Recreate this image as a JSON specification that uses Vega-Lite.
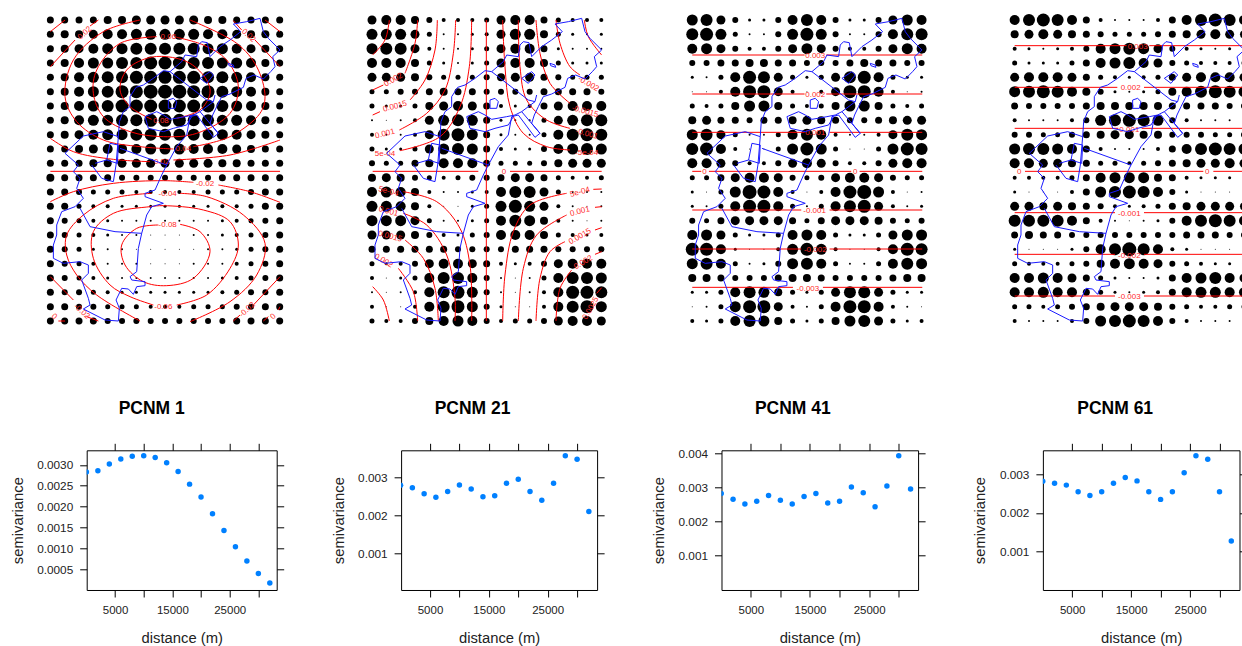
{"$schema":"https://vega.github.io/schema/vega-lite/v6.json","padding":{"left":8.7,"top":0,"right":0,"bottom":0},"background":"white","config":{"view":{"stroke":null},"font":"Liberation Sans"},"spacing":{"column":124.4,"row":110.3},"columns":4,"bounds":"flush","align":"none",
"datasets":{
"s1":[{"x":0,"y":0.00283},{"x":2000,"y":0.00286},{"x":4000,"y":0.00302},{"x":6000,"y":0.00314},{"x":8000,"y":0.00321},{"x":10000,"y":0.00322},{"x":12000,"y":0.00318},{"x":14000,"y":0.00305},{"x":16000,"y":0.00284},{"x":18000,"y":0.00254},{"x":20000,"y":0.00223},{"x":22000,"y":0.00183},{"x":24000,"y":0.00143},{"x":26000,"y":0.00104},{"x":28000,"y":0.0007},{"x":30000,"y":0.0004},{"x":32000,"y":0.00017}],
"s2":[{"x":0,"y":0.0028},{"x":2000,"y":0.002735},{"x":4000,"y":0.002575},{"x":6000,"y":0.00248},{"x":8000,"y":0.00263},{"x":10000,"y":0.002805},{"x":12000,"y":0.0027},{"x":14000,"y":0.002495},{"x":16000,"y":0.00252},{"x":18000,"y":0.00285},{"x":20000,"y":0.002956},{"x":22000,"y":0.00263},{"x":24000,"y":0.0024},{"x":26000,"y":0.00285},{"x":28000,"y":0.00358},{"x":30000,"y":0.00349},{"x":32000,"y":0.0021}],
"s3":[{"x":0,"y":0.002815},{"x":2000,"y":0.00265},{"x":4000,"y":0.00251},{"x":6000,"y":0.00259},{"x":8000,"y":0.00276},{"x":10000,"y":0.00262},{"x":12000,"y":0.00251},{"x":14000,"y":0.00273},{"x":16000,"y":0.00282},{"x":18000,"y":0.00254},{"x":20000,"y":0.00259},{"x":22000,"y":0.00301},{"x":24000,"y":0.00284},{"x":26000,"y":0.00243},{"x":28000,"y":0.00304},{"x":30000,"y":0.00392},{"x":32000,"y":0.00295}],
"s4":[{"x":0,"y":0.00282},{"x":2000,"y":0.00277},{"x":4000,"y":0.00272},{"x":6000,"y":0.00255},{"x":8000,"y":0.00245},{"x":10000,"y":0.00255},{"x":12000,"y":0.00277},{"x":14000,"y":0.00292},{"x":16000,"y":0.00283},{"x":18000,"y":0.00255},{"x":20000,"y":0.00235},{"x":22000,"y":0.00255},{"x":24000,"y":0.00304},{"x":26000,"y":0.00348},{"x":28000,"y":0.00339},{"x":30000,"y":0.00255},{"x":32000,"y":0.00127}],
"coast":[{"g":"a","x":550,"y":412},{"g":"a","x":565,"y":400},{"g":"a","x":540,"y":370},{"g":"a","x":548,"y":345},{"g":"a","x":560,"y":320},{"g":"a","x":575,"y":290},{"g":"a","x":600,"y":282},{"g":"a","x":640,"y":262},{"g":"a","x":648,"y":235},{"g":"a","x":672,"y":225},{"g":"a","x":700,"y":237},{"g":"a","x":722,"y":215},{"g":"a","x":735,"y":200},{"g":"a","x":728,"y":170},{"g":"a","x":750,"y":150},{"g":"a","x":715,"y":115},{"g":"a","x":700,"y":95},{"g":"a","x":690,"y":55},{"g":"a","x":650,"y":65},{"g":"a","x":610,"y":72},{"g":"a","x":632,"y":95},{"g":"a","x":600,"y":120},{"g":"a","x":570,"y":140},{"g":"a","x":540,"y":170},{"g":"a","x":532,"y":128},{"g":"a","x":515,"y":125},{"g":"a","x":505,"y":135},{"g":"a","x":500,"y":170},{"g":"a","x":465,"y":165},{"g":"a","x":455,"y":185},{"g":"a","x":420,"y":215},{"g":"a","x":400,"y":212},{"g":"a","x":370,"y":235},{"g":"a","x":340,"y":255},{"g":"a","x":318,"y":262},{"g":"a","x":300,"y":290},{"g":"a","x":300,"y":320},{"g":"a","x":280,"y":335},{"g":"a","x":268,"y":365},{"g":"a","x":265,"y":410},{"g":"a","x":220,"y":395},{"g":"a","x":160,"y":408},{"g":"a","x":105,"y":460},{"g":"a","x":145,"y":495},{"g":"a","x":130,"y":515},{"g":"a","x":150,"y":535},{"g":"a","x":140,"y":565},{"g":"a","x":160,"y":595},{"g":"a","x":135,"y":620},{"g":"a","x":95,"y":635},{"g":"a","x":80,"y":675},{"g":"a","x":80,"y":705},{"g":"a","x":70,"y":735},{"g":"a","x":70,"y":775},{"g":"a","x":100,"y":790},{"g":"a","x":150,"y":785},{"g":"a","x":175,"y":795},{"g":"a","x":175,"y":820},{"g":"a","x":155,"y":840},{"g":"a","x":175,"y":895},{"g":"a","x":180,"y":915},{"g":"a","x":160,"y":927},{"g":"a","x":225,"y":960},{"g":"a","x":265,"y":963},{"g":"a","x":268,"y":925},{"g":"a","x":258,"y":900},{"g":"a","x":275,"y":865},{"g":"a","x":295,"y":867},{"g":"a","x":310,"y":883},{"g":"a","x":320,"y":860},{"g":"a","x":345,"y":857},{"g":"a","x":345,"y":845},{"g":"a","x":305,"y":840},{"g":"a","x":300,"y":830},{"g":"a","x":320,"y":815},{"g":"a","x":325,"y":745},{"g":"a","x":335,"y":700},{"g":"a","x":350,"y":645},{"g":"a","x":365,"y":620},{"g":"a","x":400,"y":610},{"g":"a","x":345,"y":590},{"g":"a","x":345,"y":580},{"g":"a","x":375,"y":570},{"g":"a","x":395,"y":525},{"g":"a","x":410,"y":495},{"g":"a","x":440,"y":440},{"g":"a","x":470,"y":405},{"g":"a","x":480,"y":350},
{"g":"b","x":480,"y":350},{"g":"b","x":500,"y":345},{"g":"b","x":550,"y":412},
{"g":"c","x":510,"y":335},{"g":"c","x":565,"y":400},
{"g":"d","x":345,"y":350},{"g":"d","x":380,"y":335},{"g":"d","x":400,"y":345},{"g":"d","x":420,"y":358},{"g":"d","x":465,"y":350},{"g":"d","x":490,"y":345},{"g":"d","x":510,"y":335},{"g":"d","x":550,"y":305},{"g":"d","x":555,"y":285},
{"g":"e","x":345,"y":350},{"g":"e","x":355,"y":385},{"g":"e","x":400,"y":395},{"g":"e","x":430,"y":385},{"g":"e","x":470,"y":375},{"g":"e","x":485,"y":350},
{"g":"f","x":420,"y":215},{"g":"f","x":530,"y":300},{"g":"f","x":550,"y":305},
{"g":"h","x":335,"y":700},{"g":"h","x":255,"y":695},{"g":"h","x":180,"y":680},{"g":"h","x":150,"y":625},
{"g":"i","x":185,"y":495},{"g":"i","x":215,"y":535},{"g":"i","x":250,"y":545},{"g":"i","x":258,"y":495},{"g":"i","x":265,"y":410},
{"g":"j","x":270,"y":445},{"g":"j","x":395,"y":490},{"g":"j","x":410,"y":495},
{"g":"k","x":195,"y":490},{"g":"k","x":230,"y":480},{"g":"k","x":240,"y":430},{"g":"k","x":265,"y":435},{"g":"k","x":262,"y":490},{"g":"k","x":230,"y":480},
{"g":"l","x":415,"y":300},{"g":"l","x":430,"y":295},{"g":"l","x":440,"y":305},{"g":"l","x":435,"y":325},{"g":"l","x":415,"y":325},{"g":"l","x":415,"y":300},
{"g":"m","x":510,"y":235},{"g":"m","x":540,"y":215},{"g":"m","x":550,"y":225},{"g":"m","x":530,"y":250},{"g":"m","x":510,"y":235},
{"g":"n","x":595,"y":190},{"g":"n","x":610,"y":195},{"g":"n","x":612,"y":202},{"g":"n","x":597,"y":197},{"g":"n","x":595,"y":190}],
"c1":[{"g":"a","x":61,"y":95},{"g":"a","x":105,"y":60},
{"g":"b","x":61,"y":200},{"g":"b","x":135,"y":120},
{"g":"c","x":180,"y":78},{"g":"c","x":205,"y":60},
{"g":"d","x":610,"y":62},{"g":"d","x":635,"y":90},
{"g":"e","x":675,"y":120},{"g":"e","x":750,"y":200},
{"g":"f","x":705,"y":60},{"g":"f","x":750,"y":95},
{"g":"g","x":61,"y":415},{"g":"g","x":130,"y":455},{"g":"g","x":250,"y":478},{"g":"g","x":360,"y":485},
{"g":"h","x":430,"y":480},{"g":"h","x":600,"y":465},{"g":"h","x":750,"y":420},
{"g":"i","x":430,"y":447},{"g":"i","x":330,"y":440},{"g":"i","x":220,"y":420},{"g":"i","x":140,"y":365},{"g":"i","x":105,"y":290},{"g":"i","x":130,"y":180},{"g":"i","x":220,"y":95},{"g":"i","x":330,"y":60},
{"g":"j","x":490,"y":440},{"g":"j","x":600,"y":410},{"g":"j","x":690,"y":340},{"g":"j","x":705,"y":290},{"g":"j","x":680,"y":200},{"g":"j","x":620,"y":130},{"g":"j","x":480,"y":60},
{"g":"k","x":380,"y":110},{"g":"k","x":270,"y":130},{"g":"k","x":200,"y":210},{"g":"k","x":190,"y":280},{"g":"k","x":220,"y":350},{"g":"k","x":300,"y":395},{"g":"k","x":400,"y":410},{"g":"k","x":500,"y":400},{"g":"k","x":600,"y":340},{"g":"k","x":625,"y":260},{"g":"k","x":590,"y":180},{"g":"k","x":520,"y":135},{"g":"k","x":440,"y":112},
{"g":"l","x":365,"y":358},{"g":"l","x":300,"y":320},{"g":"l","x":270,"y":270},{"g":"l","x":290,"y":210},{"g":"l","x":350,"y":175},{"g":"l","x":410,"y":170},{"g":"l","x":480,"y":190},{"g":"l","x":530,"y":240},{"g":"l","x":540,"y":280},{"g":"l","x":510,"y":330},{"g":"l","x":440,"y":355},
{"g":"m","x":61,"y":514},{"g":"m","x":750,"y":514},
{"g":"n","x":61,"y":605},{"g":"n","x":130,"y":575},{"g":"n","x":250,"y":550},{"g":"n","x":400,"y":542},{"g":"n","x":490,"y":547},
{"g":"o","x":565,"y":555},{"g":"o","x":660,"y":575},{"g":"o","x":750,"y":607},
{"g":"p","x":365,"y":580},{"g":"p","x":250,"y":595},{"g":"p","x":160,"y":645},{"g":"p","x":110,"y":705},{"g":"p","x":110,"y":765},{"g":"p","x":140,"y":825},{"g":"p","x":200,"y":885},{"g":"p","x":330,"y":963},
{"g":"q","x":450,"y":580},{"g":"q","x":530,"y":590},{"g":"q","x":640,"y":645},{"g":"q","x":705,"y":730},{"g":"q","x":680,"y":825},{"g":"q","x":600,"y":905},{"g":"q","x":480,"y":965},
{"g":"r","x":370,"y":915},{"g":"r","x":300,"y":890},{"g":"r","x":240,"y":855},{"g":"r","x":190,"y":775},{"g":"r","x":190,"y":695},{"g":"r","x":250,"y":640},{"g":"r","x":360,"y":620},{"g":"r","x":400,"y":617},{"g":"r","x":520,"y":630},{"g":"r","x":600,"y":665},{"g":"r","x":625,"y":735},{"g":"r","x":600,"y":805},{"g":"r","x":530,"y":885},{"g":"r","x":440,"y":915},
{"g":"s","x":385,"y":675},{"g":"s","x":320,"y":685},{"g":"s","x":275,"y":735},{"g":"s","x":285,"y":795},{"g":"s","x":340,"y":845},{"g":"s","x":410,"y":857},{"g":"s","x":490,"y":835},{"g":"s","x":540,"y":755},{"g":"s","x":510,"y":695},{"g":"s","x":450,"y":673},
{"g":"t","x":61,"y":830},{"g":"t","x":130,"y":900},
{"g":"u","x":170,"y":950},{"g":"u","x":205,"y":963},
{"g":"v","x":85,"y":963},{"g":"v","x":105,"y":963},
{"g":"w","x":610,"y":963},{"g":"w","x":630,"y":945},
{"g":"x","x":670,"y":915},{"g":"x","x":750,"y":830},
{"g":"y","x":700,"y":963},{"g":"y","x":715,"y":950},
{"g":"z","x":750,"y":920},{"g":"z","x":745,"y":930}],
"l1":[{"o":"r4","x":165,"y":100,"t":"0.02"},{"o":"f4","x":655,"y":107,"t":"0.02"},{"o":"flat","x":415,"y":110,"t":"0.06"},{"o":"flat","x":393,"y":362,"t":"0.08"},{"o":"flat","x":460,"y":448,"t":"0.04"},{"o":"flat","x":395,"y":485,"t":"0.02"},{"o":"flat","x":525,"y":553,"t":"-0.02"},{"o":"flat","x":413,"y":582,"t":"-0.04"},{"o":"flat","x":413,"y":676,"t":"-0.08"},{"o":"flat","x":400,"y":920,"t":"-0.06"},{"o":"f4","x":155,"y":935,"t":"-0.02"},{"o":"r4","x":652,"y":930,"t":"-0.02"},{"o":"f4","x":72,"y":950,"t":"0"},{"o":"r4","x":730,"y":950,"t":"0"}],
"c2":[{"g":"A","x":113,"y":60},{"g":"A","x":100,"y":120},{"g":"A","x":63,"y":165},
{"g":"B","x":198,"y":60},{"g":"B","x":190,"y":130},{"g":"B","x":160,"y":220},
{"g":"B2","x":95,"y":255},{"g":"B2","x":63,"y":270},
{"g":"C","x":257,"y":60},{"g":"C","x":250,"y":150},{"g":"C","x":220,"y":240},{"g":"C","x":175,"y":300},
{"g":"C2","x":85,"y":335},{"g":"C2","x":63,"y":345},
{"g":"D","x":312,"y":60},{"g":"D","x":305,"y":160},{"g":"D","x":280,"y":270},{"g":"D","x":225,"y":340},{"g":"D","x":143,"y":390},
{"g":"E","x":360,"y":60},{"g":"E","x":353,"y":200},{"g":"E","x":325,"y":320},{"g":"E","x":265,"y":410},{"g":"E","x":145,"y":452},
{"g":"F","x":404,"y":60},{"g":"F","x":404,"y":963},
{"g":"G","x":453,"y":60},{"g":"G","x":460,"y":200},{"g":"G","x":475,"y":320},{"g":"G","x":515,"y":400},{"g":"G","x":585,"y":440},{"g":"G","x":655,"y":450},
{"g":"H","x":500,"y":60},{"g":"H","x":505,"y":200},{"g":"H","x":525,"y":300},{"g":"H","x":585,"y":360},{"g":"H","x":655,"y":385},
{"g":"I","x":553,"y":60},{"g":"I","x":565,"y":160},{"g":"I","x":595,"y":250},{"g":"I","x":655,"y":310},
{"g":"J","x":613,"y":60},{"g":"J","x":625,"y":130},{"g":"J","x":655,"y":200},{"g":"J","x":685,"y":225},
{"g":"K","x":698,"y":60},{"g":"K","x":710,"y":110},{"g":"K","x":750,"y":165},
{"g":"Z","x":63,"y":514},{"g":"Z","x":380,"y":514},
{"g":"Z2","x":475,"y":514},{"g":"Z2","x":750,"y":514},
{"g":"L","x":155,"y":575},{"g":"L","x":255,"y":605},{"g":"L","x":325,"y":685},{"g":"L","x":355,"y":795},{"g":"L","x":360,"y":963},
{"g":"M","x":155,"y":640},{"g":"M","x":225,"y":675},{"g":"M","x":285,"y":765},{"g":"M","x":310,"y":895},{"g":"M","x":310,"y":963},
{"g":"N","x":160,"y":720},{"g":"N","x":215,"y":775},{"g":"N","x":250,"y":865},{"g":"N","x":260,"y":963},
{"g":"O","x":140,"y":805},{"g":"O","x":185,"y":875},{"g":"O","x":198,"y":963},
{"g":"P","x":63,"y":860},{"g":"P","x":95,"y":900},{"g":"P","x":113,"y":963},
{"g":"Q","x":453,"y":963},{"g":"Q","x":460,"y":825},{"g":"Q","x":485,"y":695},{"g":"Q","x":535,"y":615},{"g":"Q","x":645,"y":580},
{"g":"Q2","x":725,"y":568},{"g":"Q2","x":750,"y":567},
{"g":"R","x":500,"y":963},{"g":"R","x":515,"y":805},{"g":"R","x":555,"y":705},{"g":"R","x":645,"y":645},
{"g":"R2","x":730,"y":622},{"g":"R2","x":750,"y":620},
{"g":"S","x":553,"y":963},{"g":"S","x":565,"y":835},{"g":"S","x":595,"y":755},{"g":"S","x":640,"y":725},
{"g":"S2","x":730,"y":690},{"g":"S2","x":750,"y":683},
{"g":"T","x":613,"y":963},{"g":"T","x":625,"y":865},{"g":"T","x":660,"y":810},
{"g":"T2","x":730,"y":763},{"g":"T2","x":750,"y":755},
{"g":"U","x":735,"y":880},{"g":"U","x":750,"y":863}],
"l2":[{"o":"r2","x":125,"y":240,"t":"0.002"},{"o":"r1","x":130,"y":320,"t":"0.0015"},{"o":"r1","x":100,"y":402,"t":"0.001"},{"o":"flat","x":100,"y":462,"t":"5e-04"},{"o":"flat","x":705,"y":458,"t":"-5e-04"},{"o":"f1","x":705,"y":402,"t":"-0.001"},{"o":"f1","x":700,"y":335,"t":"-0.0015"},{"o":"f2","x":710,"y":252,"t":"-0.002"},{"o":"flat","x":457,"y":515,"t":"0"},{"o":"f1","x":110,"y":575,"t":"5e-04"},{"o":"f1","x":110,"y":635,"t":"0.001"},{"o":"f1","x":115,"y":710,"t":"0.0015"},{"o":"f2","x":95,"y":783,"t":"0.002"},{"o":"r1","x":685,"y":577,"t":"5e-04"},{"o":"r1","x":685,"y":635,"t":"0.001"},{"o":"r2","x":685,"y":710,"t":"0.0015"},{"o":"r2","x":695,"y":788,"t":"0.002"},{"o":"r3","x":718,"y":925,"t":"0.0025"}],
"c3":[{"g":"a","x":61,"y":165},{"g":"a","x":398,"y":165},{"g":"b","x":463,"y":165},{"g":"b","x":751,"y":165},
{"g":"c","x":61,"y":282},{"g":"c","x":398,"y":282},{"g":"d","x":463,"y":282},{"g":"d","x":751,"y":282},
{"g":"e","x":61,"y":397},{"g":"e","x":398,"y":397},{"g":"f","x":473,"y":397},{"g":"f","x":751,"y":397},
{"g":"g","x":61,"y":514},{"g":"g","x":88,"y":514},{"g":"h","x":111,"y":514},{"g":"h","x":538,"y":514},{"g":"i","x":563,"y":514},{"g":"i","x":751,"y":514},
{"g":"j","x":61,"y":630},{"g":"j","x":388,"y":630},{"g":"k","x":473,"y":630},{"g":"k","x":751,"y":630},
{"g":"l","x":61,"y":747},{"g":"l","x":388,"y":747},{"g":"m","x":473,"y":747},{"g":"m","x":751,"y":747},
{"g":"n","x":61,"y":862},{"g":"n","x":363,"y":862},{"g":"o","x":453,"y":862},{"g":"o","x":751,"y":862}],
"l3":[{"x":430,"y":168,"t":"0.003"},{"x":430,"y":285,"t":"0.002"},{"x":430,"y":400,"t":"0.001"},{"x":98,"y":517,"t":"0"},{"x":550,"y":517,"t":"0"},{"x":428,"y":633,"t":"-0.001"},{"x":430,"y":750,"t":"-0.002"},{"x":408,"y":867,"t":"-0.003"}],
"c4":[{"g":"a","x":61,"y":137},{"g":"a","x":397,"y":137},{"g":"b","x":465,"y":137},{"g":"b","x":790,"y":137},
{"g":"c","x":61,"y":262},{"g":"c","x":369,"y":262},{"g":"d","x":449,"y":262},{"g":"d","x":790,"y":262},
{"g":"e","x":61,"y":385},{"g":"e","x":372,"y":385},{"g":"f","x":442,"y":385},{"g":"f","x":790,"y":385},
{"g":"g","x":92,"y":514},{"g":"g","x":627,"y":514},{"g":"h","x":657,"y":514},{"g":"h","x":790,"y":514},
{"g":"i","x":61,"y":638},{"g":"i","x":362,"y":638},{"g":"j","x":449,"y":638},{"g":"j","x":790,"y":638},
{"g":"k","x":61,"y":763},{"g":"k","x":362,"y":763},{"g":"l","x":449,"y":763},{"g":"l","x":790,"y":763},
{"g":"m","x":61,"y":888},{"g":"m","x":362,"y":888},{"g":"n","x":449,"y":888},{"g":"n","x":790,"y":888}],
"l4":[{"x":430,"y":141,"t":"0.003"},{"x":409,"y":265,"t":"0.002"},{"x":405,"y":390,"t":"0.001"},{"x":75,"y":517,"t":"0"},{"x":639,"y":517,"t":"0"},{"x":405,"y":642,"t":"-0.001"},{"x":405,"y":767,"t":"-0.002"},{"x":405,"y":892,"t":"-0.003"}],
"d1":[
{"x":61,"y":60,"v":7},{"x":104,"y":60,"v":7},{"x":147,"y":60,"v":7},{"x":190,"y":60,"v":7},{"x":233,"y":60,"v":8},{"x":276,"y":60,"v":8},{"x":319,"y":60,"v":9},{"x":362,"y":60,"v":9},{"x":405,"y":60,"v":9},{"x":448,"y":60,"v":9},{"x":491,"y":60,"v":9},{"x":534,"y":60,"v":8},{"x":577,"y":60,"v":8},{"x":620,"y":60,"v":7},{"x":663,"y":60,"v":7},{"x":706,"y":60,"v":7},{"x":749,"y":60,"v":7},
{"x":61,"y":103,"v":7},{"x":104,"y":103,"v":8},{"x":147,"y":103,"v":8},{"x":190,"y":103,"v":9},{"x":233,"y":103,"v":10},{"x":276,"y":103,"v":10},{"x":319,"y":103,"v":11},{"x":362,"y":103,"v":11},{"x":405,"y":103,"v":11},{"x":448,"y":103,"v":11},{"x":491,"y":103,"v":11},{"x":534,"y":103,"v":10},{"x":577,"y":103,"v":10},{"x":620,"y":103,"v":9},{"x":663,"y":103,"v":8},{"x":706,"y":103,"v":8},{"x":749,"y":103,"v":7},
{"x":61,"y":146,"v":7},{"x":104,"y":146,"v":8},{"x":147,"y":146,"v":9},{"x":190,"y":146,"v":10},{"x":233,"y":146,"v":11},{"x":276,"y":146,"v":11},{"x":319,"y":146,"v":12},{"x":362,"y":146,"v":12},{"x":405,"y":146,"v":12},{"x":448,"y":146,"v":12},{"x":491,"y":146,"v":12},{"x":534,"y":146,"v":11},{"x":577,"y":146,"v":11},{"x":620,"y":146,"v":10},{"x":663,"y":146,"v":9},{"x":706,"y":146,"v":8},{"x":749,"y":146,"v":7},
{"x":61,"y":189,"v":7},{"x":104,"y":189,"v":8},{"x":147,"y":189,"v":10},{"x":190,"y":189,"v":11},{"x":233,"y":189,"v":11},{"x":276,"y":189,"v":12},{"x":319,"y":189,"v":12},{"x":362,"y":189,"v":13},{"x":405,"y":189,"v":13},{"x":448,"y":189,"v":13},{"x":491,"y":189,"v":12},{"x":534,"y":189,"v":12},{"x":577,"y":189,"v":11},{"x":620,"y":189,"v":11},{"x":663,"y":189,"v":10},{"x":706,"y":189,"v":8},{"x":749,"y":189,"v":7},
{"x":61,"y":232,"v":7},{"x":104,"y":232,"v":8},{"x":147,"y":232,"v":10},{"x":190,"y":232,"v":11},{"x":233,"y":232,"v":12},{"x":276,"y":232,"v":12},{"x":319,"y":232,"v":13},{"x":362,"y":232,"v":13},{"x":405,"y":232,"v":13},{"x":448,"y":232,"v":13},{"x":491,"y":232,"v":13},{"x":534,"y":232,"v":12},{"x":577,"y":232,"v":12},{"x":620,"y":232,"v":11},{"x":663,"y":232,"v":10},{"x":706,"y":232,"v":8},{"x":749,"y":232,"v":7},
{"x":61,"y":275,"v":7},{"x":104,"y":275,"v":8},{"x":147,"y":275,"v":10},{"x":190,"y":275,"v":11},{"x":233,"y":275,"v":12},{"x":276,"y":275,"v":13},{"x":319,"y":275,"v":13},{"x":362,"y":275,"v":14},{"x":405,"y":275,"v":14},{"x":448,"y":275,"v":14},{"x":491,"y":275,"v":13},{"x":534,"y":275,"v":13},{"x":577,"y":275,"v":12},{"x":620,"y":275,"v":11},{"x":663,"y":275,"v":10},{"x":706,"y":275,"v":8},{"x":749,"y":275,"v":7},
{"x":61,"y":318,"v":7},{"x":104,"y":318,"v":8},{"x":147,"y":318,"v":10},{"x":190,"y":318,"v":11},{"x":233,"y":318,"v":12},{"x":276,"y":318,"v":13},{"x":319,"y":318,"v":13},{"x":362,"y":318,"v":13},{"x":405,"y":318,"v":13},{"x":448,"y":318,"v":13},{"x":491,"y":318,"v":13},{"x":534,"y":318,"v":13},{"x":577,"y":318,"v":12},{"x":620,"y":318,"v":11},{"x":663,"y":318,"v":10},{"x":706,"y":318,"v":8},{"x":749,"y":318,"v":7},
{"x":61,"y":361,"v":7},{"x":104,"y":361,"v":8},{"x":147,"y":361,"v":10},{"x":190,"y":361,"v":11},{"x":233,"y":361,"v":11},{"x":276,"y":361,"v":12},{"x":319,"y":361,"v":12},{"x":362,"y":361,"v":13},{"x":405,"y":361,"v":13},{"x":448,"y":361,"v":13},{"x":491,"y":361,"v":12},{"x":534,"y":361,"v":12},{"x":577,"y":361,"v":11},{"x":620,"y":361,"v":11},{"x":663,"y":361,"v":10},{"x":706,"y":361,"v":8},{"x":749,"y":361,"v":7},
{"x":61,"y":404,"v":7},{"x":104,"y":404,"v":8},{"x":147,"y":404,"v":9},{"x":190,"y":404,"v":10},{"x":233,"y":404,"v":11},{"x":276,"y":404,"v":11},{"x":319,"y":404,"v":12},{"x":362,"y":404,"v":12},{"x":405,"y":404,"v":12},{"x":448,"y":404,"v":12},{"x":491,"y":404,"v":12},{"x":534,"y":404,"v":11},{"x":577,"y":404,"v":11},{"x":620,"y":404,"v":10},{"x":663,"y":404,"v":9},{"x":706,"y":404,"v":8},{"x":749,"y":404,"v":7},
{"x":61,"y":447,"v":7},{"x":104,"y":447,"v":7},{"x":147,"y":447,"v":8},{"x":190,"y":447,"v":9},{"x":233,"y":447,"v":10},{"x":276,"y":447,"v":10},{"x":319,"y":447,"v":10},{"x":362,"y":447,"v":11},{"x":405,"y":447,"v":11},{"x":448,"y":447,"v":11},{"x":491,"y":447,"v":10},{"x":534,"y":447,"v":10},{"x":577,"y":447,"v":10},{"x":620,"y":447,"v":9},{"x":663,"y":447,"v":8},{"x":706,"y":447,"v":7},{"x":749,"y":447,"v":7},
{"x":61,"y":490,"v":7},{"x":104,"y":490,"v":7},{"x":147,"y":490,"v":7},{"x":190,"y":490,"v":8},{"x":233,"y":490,"v":8},{"x":276,"y":490,"v":9},{"x":319,"y":490,"v":9},{"x":362,"y":490,"v":9},{"x":405,"y":490,"v":9},{"x":448,"y":490,"v":9},{"x":491,"y":490,"v":9},{"x":534,"y":490,"v":9},{"x":577,"y":490,"v":8},{"x":620,"y":490,"v":8},{"x":663,"y":490,"v":7},{"x":706,"y":490,"v":7},{"x":749,"y":490,"v":7},
{"x":61,"y":533,"v":8},{"x":104,"y":533,"v":7},{"x":147,"y":533,"v":7},{"x":190,"y":533,"v":7},{"x":233,"y":533,"v":7},{"x":276,"y":533,"v":6},{"x":319,"y":533,"v":6},{"x":362,"y":533,"v":6},{"x":405,"y":533,"v":6},{"x":448,"y":533,"v":6},{"x":491,"y":533,"v":6},{"x":534,"y":533,"v":6},{"x":577,"y":533,"v":7},{"x":620,"y":533,"v":7},{"x":663,"y":533,"v":7},{"x":706,"y":533,"v":7},{"x":749,"y":533,"v":7},
{"x":61,"y":576,"v":7},{"x":104,"y":576,"v":7},{"x":147,"y":576,"v":6},{"x":190,"y":576,"v":5},{"x":233,"y":576,"v":5},{"x":276,"y":576,"v":5},{"x":319,"y":576,"v":4},{"x":362,"y":576,"v":4},{"x":405,"y":576,"v":4},{"x":448,"y":576,"v":4},{"x":491,"y":576,"v":4},{"x":534,"y":576,"v":5},{"x":577,"y":576,"v":5},{"x":620,"y":576,"v":5},{"x":663,"y":576,"v":6},{"x":706,"y":576,"v":7},{"x":749,"y":576,"v":7},
{"x":61,"y":619,"v":7},{"x":104,"y":619,"v":7},{"x":147,"y":619,"v":5},{"x":190,"y":619,"v":4},{"x":233,"y":619,"v":4},{"x":276,"y":619,"v":3},{"x":319,"y":619,"v":3},{"x":362,"y":619,"v":3},{"x":405,"y":619,"v":3},{"x":448,"y":619,"v":3},{"x":491,"y":619,"v":3},{"x":534,"y":619,"v":3},{"x":577,"y":619,"v":4},{"x":620,"y":619,"v":4},{"x":663,"y":619,"v":5},{"x":706,"y":619,"v":7},{"x":749,"y":619,"v":7},
{"x":61,"y":662,"v":7},{"x":104,"y":662,"v":6},{"x":147,"y":662,"v":5},{"x":190,"y":662,"v":4},{"x":233,"y":662,"v":3},{"x":276,"y":662,"v":2},{"x":319,"y":662,"v":2},{"x":362,"y":662,"v":2},{"x":405,"y":662,"v":2},{"x":448,"y":662,"v":2},{"x":491,"y":662,"v":2},{"x":534,"y":662,"v":2},{"x":577,"y":662,"v":3},{"x":620,"y":662,"v":4},{"x":663,"y":662,"v":5},{"x":706,"y":662,"v":6},{"x":749,"y":662,"v":7},
{"x":61,"y":705,"v":7},{"x":104,"y":705,"v":6},{"x":147,"y":705,"v":5},{"x":190,"y":705,"v":4},{"x":233,"y":705,"v":3},{"x":276,"y":705,"v":2},{"x":319,"y":705,"v":2},{"x":362,"y":705,"v":1},{"x":405,"y":705,"v":1},{"x":448,"y":705,"v":1},{"x":491,"y":705,"v":2},{"x":534,"y":705,"v":2},{"x":577,"y":705,"v":3},{"x":620,"y":705,"v":4},{"x":663,"y":705,"v":5},{"x":706,"y":705,"v":6},{"x":749,"y":705,"v":7},
{"x":61,"y":748,"v":7},{"x":104,"y":748,"v":6},{"x":147,"y":748,"v":5},{"x":190,"y":748,"v":3},{"x":233,"y":748,"v":2},{"x":276,"y":748,"v":2},{"x":319,"y":748,"v":1},{"x":362,"y":748,"v":1},{"x":405,"y":748,"v":1},{"x":448,"y":748,"v":1},{"x":491,"y":748,"v":1},{"x":534,"y":748,"v":2},{"x":577,"y":748,"v":2},{"x":620,"y":748,"v":3},{"x":663,"y":748,"v":5},{"x":706,"y":748,"v":6},{"x":749,"y":748,"v":7},
{"x":61,"y":791,"v":7},{"x":104,"y":791,"v":6},{"x":147,"y":791,"v":5},{"x":190,"y":791,"v":4},{"x":233,"y":791,"v":2},{"x":276,"y":791,"v":2},{"x":319,"y":791,"v":2},{"x":362,"y":791,"v":1},{"x":405,"y":791,"v":1},{"x":448,"y":791,"v":1},{"x":491,"y":791,"v":2},{"x":534,"y":791,"v":2},{"x":577,"y":791,"v":2},{"x":620,"y":791,"v":4},{"x":663,"y":791,"v":5},{"x":706,"y":791,"v":6},{"x":749,"y":791,"v":7},
{"x":61,"y":834,"v":7},{"x":104,"y":834,"v":6},{"x":147,"y":834,"v":5},{"x":190,"y":834,"v":4},{"x":233,"y":834,"v":3},{"x":276,"y":834,"v":2},{"x":319,"y":834,"v":2},{"x":362,"y":834,"v":2},{"x":405,"y":834,"v":2},{"x":448,"y":834,"v":2},{"x":491,"y":834,"v":2},{"x":534,"y":834,"v":2},{"x":577,"y":834,"v":3},{"x":620,"y":834,"v":4},{"x":663,"y":834,"v":5},{"x":706,"y":834,"v":6},{"x":749,"y":834,"v":7},
{"x":61,"y":877,"v":7},{"x":104,"y":877,"v":6},{"x":147,"y":877,"v":6},{"x":190,"y":877,"v":5},{"x":233,"y":877,"v":4},{"x":276,"y":877,"v":3},{"x":319,"y":877,"v":3},{"x":362,"y":877,"v":3},{"x":405,"y":877,"v":3},{"x":448,"y":877,"v":3},{"x":491,"y":877,"v":3},{"x":534,"y":877,"v":3},{"x":577,"y":877,"v":4},{"x":620,"y":877,"v":5},{"x":663,"y":877,"v":6},{"x":706,"y":877,"v":6},{"x":749,"y":877,"v":7},
{"x":61,"y":920,"v":7},{"x":104,"y":920,"v":7},{"x":147,"y":920,"v":6},{"x":190,"y":920,"v":6},{"x":233,"y":920,"v":5},{"x":276,"y":920,"v":5},{"x":319,"y":920,"v":5},{"x":362,"y":920,"v":4},{"x":405,"y":920,"v":4},{"x":448,"y":920,"v":4},{"x":491,"y":920,"v":5},{"x":534,"y":920,"v":5},{"x":577,"y":920,"v":5},{"x":620,"y":920,"v":6},{"x":663,"y":920,"v":6},{"x":706,"y":920,"v":7},{"x":749,"y":920,"v":7},
{"x":61,"y":963,"v":7},{"x":104,"y":963,"v":7},{"x":147,"y":963,"v":7},{"x":190,"y":963,"v":7},{"x":233,"y":963,"v":6},{"x":276,"y":963,"v":6},{"x":319,"y":963,"v":6},{"x":362,"y":963,"v":6},{"x":405,"y":963,"v":6},{"x":448,"y":963,"v":6},{"x":491,"y":963,"v":6},{"x":534,"y":963,"v":6},{"x":577,"y":963,"v":6},{"x":620,"y":963,"v":7},{"x":663,"y":963,"v":7},{"x":706,"y":963,"v":7},{"x":749,"y":963,"v":7}],
"d2":[
{"x":61,"y":60,"v":9},{"x":104,"y":60,"v":10},{"x":147,"y":60,"v":10},{"x":190,"y":60,"v":8},{"x":233,"y":60,"v":6},{"x":276,"y":60,"v":4},{"x":319,"y":60,"v":4},{"x":362,"y":60,"v":4},{"x":405,"y":60,"v":5},{"x":448,"y":60,"v":9},{"x":491,"y":60,"v":10},{"x":534,"y":60,"v":10},{"x":577,"y":60,"v":7},{"x":620,"y":60,"v":5},{"x":663,"y":60,"v":4},{"x":706,"y":60,"v":4},{"x":749,"y":60,"v":4},
{"x":61,"y":103,"v":11},{"x":104,"y":103,"v":11},{"x":147,"y":103,"v":11},{"x":190,"y":103,"v":9},{"x":233,"y":103,"v":5},{"x":276,"y":103,"v":2},{"x":319,"y":103,"v":2},{"x":362,"y":103,"v":3},{"x":405,"y":103,"v":4},{"x":448,"y":103,"v":9},{"x":491,"y":103,"v":11},{"x":534,"y":103,"v":11},{"x":577,"y":103,"v":8},{"x":620,"y":103,"v":5},{"x":663,"y":103,"v":3},{"x":706,"y":103,"v":2},{"x":749,"y":103,"v":3},
{"x":61,"y":146,"v":11},{"x":104,"y":146,"v":12},{"x":147,"y":146,"v":12},{"x":190,"y":146,"v":9},{"x":233,"y":146,"v":4},{"x":276,"y":146,"v":2},{"x":319,"y":146,"v":2},{"x":362,"y":146,"v":3},{"x":405,"y":146,"v":5},{"x":448,"y":146,"v":9},{"x":491,"y":146,"v":10},{"x":534,"y":146,"v":10},{"x":577,"y":146,"v":7},{"x":620,"y":146,"v":3},{"x":663,"y":146,"v":2},{"x":706,"y":146,"v":2},{"x":749,"y":146,"v":2},
{"x":61,"y":189,"v":10},{"x":104,"y":189,"v":10},{"x":147,"y":189,"v":10},{"x":190,"y":189,"v":8},{"x":233,"y":189,"v":5},{"x":276,"y":189,"v":3},{"x":319,"y":189,"v":2},{"x":362,"y":189,"v":3},{"x":405,"y":189,"v":5},{"x":448,"y":189,"v":9},{"x":491,"y":189,"v":10},{"x":534,"y":189,"v":10},{"x":577,"y":189,"v":8},{"x":620,"y":189,"v":5},{"x":663,"y":189,"v":3},{"x":706,"y":189,"v":3},{"x":749,"y":189,"v":3},
{"x":61,"y":232,"v":9},{"x":104,"y":232,"v":9},{"x":147,"y":232,"v":9},{"x":190,"y":232,"v":8},{"x":233,"y":232,"v":6},{"x":276,"y":232,"v":5},{"x":319,"y":232,"v":5},{"x":362,"y":232,"v":5},{"x":405,"y":232,"v":6},{"x":448,"y":232,"v":8},{"x":491,"y":232,"v":9},{"x":534,"y":232,"v":9},{"x":577,"y":232,"v":7},{"x":620,"y":232,"v":6},{"x":663,"y":232,"v":5},{"x":706,"y":232,"v":5},{"x":749,"y":232,"v":5},
{"x":61,"y":275,"v":5},{"x":104,"y":275,"v":5},{"x":147,"y":275,"v":6},{"x":190,"y":275,"v":6},{"x":233,"y":275,"v":7},{"x":276,"y":275,"v":8},{"x":319,"y":275,"v":7},{"x":362,"y":275,"v":7},{"x":405,"y":275,"v":6},{"x":448,"y":275,"v":6},{"x":491,"y":275,"v":6},{"x":534,"y":275,"v":6},{"x":577,"y":275,"v":7},{"x":620,"y":275,"v":7},{"x":663,"y":275,"v":7},{"x":706,"y":275,"v":7},{"x":749,"y":275,"v":6},
{"x":61,"y":318,"v":5},{"x":104,"y":318,"v":3},{"x":147,"y":318,"v":3},{"x":190,"y":318,"v":5},{"x":233,"y":318,"v":8},{"x":276,"y":318,"v":9},{"x":319,"y":318,"v":10},{"x":362,"y":318,"v":9},{"x":405,"y":318,"v":7},{"x":448,"y":318,"v":4},{"x":491,"y":318,"v":3},{"x":534,"y":318,"v":4},{"x":577,"y":318,"v":7},{"x":620,"y":318,"v":9},{"x":663,"y":318,"v":10},{"x":706,"y":318,"v":10},{"x":749,"y":318,"v":10},
{"x":61,"y":361,"v":2},{"x":104,"y":361,"v":1},{"x":147,"y":361,"v":2},{"x":190,"y":361,"v":4},{"x":233,"y":361,"v":9},{"x":276,"y":361,"v":11},{"x":319,"y":361,"v":12},{"x":362,"y":361,"v":11},{"x":405,"y":361,"v":7},{"x":448,"y":361,"v":3},{"x":491,"y":361,"v":2},{"x":534,"y":361,"v":2},{"x":577,"y":361,"v":5},{"x":620,"y":361,"v":9},{"x":663,"y":361,"v":11},{"x":706,"y":361,"v":12},{"x":749,"y":361,"v":12},
{"x":61,"y":404,"v":4},{"x":104,"y":404,"v":2},{"x":147,"y":404,"v":2},{"x":190,"y":404,"v":4},{"x":233,"y":404,"v":9},{"x":276,"y":404,"v":12},{"x":319,"y":404,"v":13},{"x":362,"y":404,"v":11},{"x":405,"y":404,"v":7},{"x":448,"y":404,"v":3},{"x":491,"y":404,"v":2},{"x":534,"y":404,"v":2},{"x":577,"y":404,"v":5},{"x":620,"y":404,"v":10},{"x":663,"y":404,"v":12},{"x":706,"y":404,"v":13},{"x":749,"y":404,"v":12},
{"x":61,"y":447,"v":5},{"x":104,"y":447,"v":3},{"x":147,"y":447,"v":3},{"x":190,"y":447,"v":5},{"x":233,"y":447,"v":9},{"x":276,"y":447,"v":11},{"x":319,"y":447,"v":12},{"x":362,"y":447,"v":11},{"x":405,"y":447,"v":7},{"x":448,"y":447,"v":4},{"x":491,"y":447,"v":3},{"x":534,"y":447,"v":3},{"x":577,"y":447,"v":6},{"x":620,"y":447,"v":10},{"x":663,"y":447,"v":11},{"x":706,"y":447,"v":12},{"x":749,"y":447,"v":11},
{"x":61,"y":490,"v":6},{"x":104,"y":490,"v":5},{"x":147,"y":490,"v":5},{"x":190,"y":490,"v":7},{"x":233,"y":490,"v":8},{"x":276,"y":490,"v":10},{"x":319,"y":490,"v":10},{"x":362,"y":490,"v":10},{"x":405,"y":490,"v":7},{"x":448,"y":490,"v":5},{"x":491,"y":490,"v":5},{"x":534,"y":490,"v":5},{"x":577,"y":490,"v":6},{"x":620,"y":490,"v":8},{"x":663,"y":490,"v":9},{"x":706,"y":490,"v":9},{"x":749,"y":490,"v":9},
{"x":61,"y":533,"v":8},{"x":104,"y":533,"v":9},{"x":147,"y":533,"v":8},{"x":190,"y":533,"v":6},{"x":233,"y":533,"v":5},{"x":276,"y":533,"v":4},{"x":319,"y":533,"v":5},{"x":362,"y":533,"v":6},{"x":405,"y":533,"v":6},{"x":448,"y":533,"v":7},{"x":491,"y":533,"v":9},{"x":534,"y":533,"v":9},{"x":577,"y":533,"v":7},{"x":620,"y":533,"v":5},{"x":663,"y":533,"v":4},{"x":706,"y":533,"v":4},{"x":749,"y":533,"v":5},
{"x":61,"y":576,"v":10},{"x":104,"y":576,"v":11},{"x":147,"y":576,"v":10},{"x":190,"y":576,"v":8},{"x":233,"y":576,"v":4},{"x":276,"y":576,"v":2},{"x":319,"y":576,"v":2},{"x":362,"y":576,"v":3},{"x":405,"y":576,"v":4},{"x":448,"y":576,"v":10},{"x":491,"y":576,"v":12},{"x":534,"y":576,"v":12},{"x":577,"y":576,"v":9},{"x":620,"y":576,"v":5},{"x":663,"y":576,"v":2},{"x":706,"y":576,"v":2},{"x":749,"y":576,"v":2},
{"x":61,"y":619,"v":11},{"x":104,"y":619,"v":11},{"x":147,"y":619,"v":10},{"x":190,"y":619,"v":8},{"x":233,"y":619,"v":4},{"x":276,"y":619,"v":1},{"x":319,"y":619,"v":1},{"x":362,"y":619,"v":3},{"x":405,"y":619,"v":5},{"x":448,"y":619,"v":11},{"x":491,"y":619,"v":13},{"x":534,"y":619,"v":11},{"x":577,"y":619,"v":9},{"x":620,"y":619,"v":4},{"x":663,"y":619,"v":2},{"x":706,"y":619,"v":1},{"x":749,"y":619,"v":2},
{"x":61,"y":662,"v":11},{"x":104,"y":662,"v":11},{"x":147,"y":662,"v":11},{"x":190,"y":662,"v":9},{"x":233,"y":662,"v":5},{"x":276,"y":662,"v":2},{"x":319,"y":662,"v":2},{"x":362,"y":662,"v":3},{"x":405,"y":662,"v":5},{"x":448,"y":662,"v":10},{"x":491,"y":662,"v":12},{"x":534,"y":662,"v":11},{"x":577,"y":662,"v":8},{"x":620,"y":662,"v":4},{"x":663,"y":662,"v":2},{"x":706,"y":662,"v":1},{"x":749,"y":662,"v":2},
{"x":61,"y":705,"v":9},{"x":104,"y":705,"v":9},{"x":147,"y":705,"v":9},{"x":190,"y":705,"v":8},{"x":233,"y":705,"v":6},{"x":276,"y":705,"v":4},{"x":319,"y":705,"v":3},{"x":362,"y":705,"v":5},{"x":405,"y":705,"v":6},{"x":448,"y":705,"v":10},{"x":491,"y":705,"v":10},{"x":534,"y":705,"v":10},{"x":577,"y":705,"v":8},{"x":620,"y":705,"v":5},{"x":663,"y":705,"v":4},{"x":706,"y":705,"v":3},{"x":749,"y":705,"v":4},
{"x":61,"y":748,"v":7},{"x":104,"y":748,"v":7},{"x":147,"y":748,"v":7},{"x":190,"y":748,"v":7},{"x":233,"y":748,"v":7},{"x":276,"y":748,"v":7},{"x":319,"y":748,"v":6},{"x":362,"y":748,"v":6},{"x":405,"y":748,"v":6},{"x":448,"y":748,"v":6},{"x":491,"y":748,"v":7},{"x":534,"y":748,"v":7},{"x":577,"y":748,"v":7},{"x":620,"y":748,"v":6},{"x":663,"y":748,"v":6},{"x":706,"y":748,"v":6},{"x":749,"y":748,"v":6},
{"x":61,"y":791,"v":5},{"x":104,"y":791,"v":3},{"x":147,"y":791,"v":4},{"x":190,"y":791,"v":6},{"x":233,"y":791,"v":9},{"x":276,"y":791,"v":10},{"x":319,"y":791,"v":10},{"x":362,"y":791,"v":9},{"x":405,"y":791,"v":7},{"x":448,"y":791,"v":4},{"x":491,"y":791,"v":3},{"x":534,"y":791,"v":4},{"x":577,"y":791,"v":6},{"x":620,"y":791,"v":9},{"x":663,"y":791,"v":10},{"x":706,"y":791,"v":10},{"x":749,"y":791,"v":10},
{"x":61,"y":834,"v":4},{"x":104,"y":834,"v":1},{"x":147,"y":834,"v":3},{"x":190,"y":834,"v":5},{"x":233,"y":834,"v":10},{"x":276,"y":834,"v":12},{"x":319,"y":834,"v":12},{"x":362,"y":834,"v":10},{"x":405,"y":834,"v":6},{"x":448,"y":834,"v":2},{"x":491,"y":834,"v":1},{"x":534,"y":834,"v":2},{"x":577,"y":834,"v":5},{"x":620,"y":834,"v":10},{"x":663,"y":834,"v":12},{"x":706,"y":834,"v":12},{"x":749,"y":834,"v":11},
{"x":61,"y":877,"v":2},{"x":104,"y":877,"v":1},{"x":147,"y":877,"v":2},{"x":190,"y":877,"v":4},{"x":233,"y":877,"v":10},{"x":276,"y":877,"v":12},{"x":319,"y":877,"v":13},{"x":362,"y":877,"v":11},{"x":405,"y":877,"v":6},{"x":448,"y":877,"v":2},{"x":491,"y":877,"v":1},{"x":534,"y":877,"v":2},{"x":577,"y":877,"v":4},{"x":620,"y":877,"v":10},{"x":663,"y":877,"v":13},{"x":706,"y":877,"v":13},{"x":749,"y":877,"v":12},
{"x":61,"y":920,"v":4},{"x":104,"y":920,"v":1},{"x":147,"y":920,"v":1},{"x":190,"y":920,"v":4},{"x":233,"y":920,"v":10},{"x":276,"y":920,"v":12},{"x":319,"y":920,"v":13},{"x":362,"y":920,"v":11},{"x":405,"y":920,"v":6},{"x":448,"y":920,"v":3},{"x":491,"y":920,"v":1},{"x":534,"y":920,"v":1},{"x":577,"y":920,"v":4},{"x":620,"y":920,"v":10},{"x":663,"y":920,"v":12},{"x":706,"y":920,"v":13},{"x":749,"y":920,"v":11},
{"x":61,"y":963,"v":5},{"x":104,"y":963,"v":4},{"x":147,"y":963,"v":4},{"x":190,"y":963,"v":6},{"x":233,"y":963,"v":8},{"x":276,"y":963,"v":10},{"x":319,"y":963,"v":11},{"x":362,"y":963,"v":10},{"x":405,"y":963,"v":6},{"x":448,"y":963,"v":4},{"x":491,"y":963,"v":5},{"x":534,"y":963,"v":5},{"x":577,"y":963,"v":6},{"x":620,"y":963,"v":9},{"x":663,"y":963,"v":10},{"x":706,"y":963,"v":10},{"x":749,"y":963,"v":9}],
"d3":[
{"x":61,"y":60,"v":11},{"x":104,"y":60,"v":12},{"x":147,"y":60,"v":9},{"x":190,"y":60,"v":6},{"x":233,"y":60,"v":3},{"x":276,"y":60,"v":3},{"x":319,"y":60,"v":6},{"x":362,"y":60,"v":10},{"x":405,"y":60,"v":12},{"x":448,"y":60,"v":10},{"x":491,"y":60,"v":6},{"x":534,"y":60,"v":3},{"x":577,"y":60,"v":3},{"x":620,"y":60,"v":6},{"x":663,"y":60,"v":9},{"x":706,"y":60,"v":11},{"x":749,"y":60,"v":10},
{"x":61,"y":103,"v":12},{"x":104,"y":103,"v":13},{"x":147,"y":103,"v":11},{"x":190,"y":103,"v":5},{"x":233,"y":103,"v":2},{"x":276,"y":103,"v":2},{"x":319,"y":103,"v":6},{"x":362,"y":103,"v":11},{"x":405,"y":103,"v":13},{"x":448,"y":103,"v":11},{"x":491,"y":103,"v":6},{"x":534,"y":103,"v":2},{"x":577,"y":103,"v":2},{"x":620,"y":103,"v":6},{"x":663,"y":103,"v":10},{"x":706,"y":103,"v":12},{"x":749,"y":103,"v":12},
{"x":61,"y":146,"v":10},{"x":104,"y":146,"v":11},{"x":147,"y":146,"v":9},{"x":190,"y":146,"v":6},{"x":233,"y":146,"v":4},{"x":276,"y":146,"v":4},{"x":319,"y":146,"v":6},{"x":362,"y":146,"v":9},{"x":405,"y":146,"v":11},{"x":448,"y":146,"v":9},{"x":491,"y":146,"v":6},{"x":534,"y":146,"v":4},{"x":577,"y":146,"v":4},{"x":620,"y":146,"v":6},{"x":663,"y":146,"v":9},{"x":706,"y":146,"v":11},{"x":749,"y":146,"v":10},
{"x":61,"y":189,"v":6},{"x":104,"y":189,"v":6},{"x":147,"y":189,"v":7},{"x":190,"y":189,"v":7},{"x":233,"y":189,"v":8},{"x":276,"y":189,"v":8},{"x":319,"y":189,"v":7},{"x":362,"y":189,"v":7},{"x":405,"y":189,"v":6},{"x":448,"y":189,"v":6},{"x":491,"y":189,"v":6},{"x":534,"y":189,"v":7},{"x":577,"y":189,"v":8},{"x":620,"y":189,"v":7},{"x":663,"y":189,"v":7},{"x":706,"y":189,"v":6},{"x":749,"y":189,"v":6},
{"x":61,"y":232,"v":3},{"x":104,"y":232,"v":2},{"x":147,"y":232,"v":5},{"x":190,"y":232,"v":10},{"x":233,"y":232,"v":13},{"x":276,"y":232,"v":12},{"x":319,"y":232,"v":9},{"x":362,"y":232,"v":5},{"x":405,"y":232,"v":3},{"x":448,"y":232,"v":5},{"x":491,"y":232,"v":9},{"x":534,"y":232,"v":12},{"x":577,"y":232,"v":13},{"x":620,"y":232,"v":10},{"x":663,"y":232,"v":5},{"x":706,"y":232,"v":3},{"x":749,"y":232,"v":3},
{"x":61,"y":275,"v":1},{"x":104,"y":275,"v":1},{"x":147,"y":275,"v":4},{"x":190,"y":275,"v":10},{"x":233,"y":275,"v":13},{"x":276,"y":275,"v":13},{"x":319,"y":275,"v":9},{"x":362,"y":275,"v":4},{"x":405,"y":275,"v":1},{"x":448,"y":275,"v":4},{"x":491,"y":275,"v":9},{"x":534,"y":275,"v":13},{"x":577,"y":275,"v":13},{"x":620,"y":275,"v":10},{"x":663,"y":275,"v":4},{"x":706,"y":275,"v":1},{"x":749,"y":275,"v":2},
{"x":61,"y":318,"v":5},{"x":104,"y":318,"v":4},{"x":147,"y":318,"v":5},{"x":190,"y":318,"v":8},{"x":233,"y":318,"v":11},{"x":276,"y":318,"v":11},{"x":319,"y":318,"v":8},{"x":362,"y":318,"v":5},{"x":405,"y":318,"v":4},{"x":448,"y":318,"v":5},{"x":491,"y":318,"v":8},{"x":534,"y":318,"v":11},{"x":577,"y":318,"v":11},{"x":620,"y":318,"v":8},{"x":663,"y":318,"v":5},{"x":706,"y":318,"v":4},{"x":749,"y":318,"v":5},
{"x":61,"y":361,"v":8},{"x":104,"y":361,"v":9},{"x":147,"y":361,"v":7},{"x":190,"y":361,"v":7},{"x":233,"y":361,"v":6},{"x":276,"y":361,"v":7},{"x":319,"y":361,"v":7},{"x":362,"y":361,"v":8},{"x":405,"y":361,"v":9},{"x":448,"y":361,"v":8},{"x":491,"y":361,"v":7},{"x":534,"y":361,"v":6},{"x":577,"y":361,"v":6},{"x":620,"y":361,"v":7},{"x":663,"y":361,"v":8},{"x":706,"y":361,"v":9},{"x":749,"y":361,"v":9},
{"x":61,"y":404,"v":11},{"x":104,"y":404,"v":12},{"x":147,"y":404,"v":9},{"x":190,"y":404,"v":5},{"x":233,"y":404,"v":2},{"x":276,"y":404,"v":2},{"x":319,"y":404,"v":5},{"x":362,"y":404,"v":10},{"x":405,"y":404,"v":12},{"x":448,"y":404,"v":10},{"x":491,"y":404,"v":4},{"x":534,"y":404,"v":2},{"x":577,"y":404,"v":2},{"x":620,"y":404,"v":4},{"x":663,"y":404,"v":9},{"x":706,"y":404,"v":12},{"x":749,"y":404,"v":11},
{"x":61,"y":447,"v":12},{"x":104,"y":447,"v":13},{"x":147,"y":447,"v":10},{"x":190,"y":447,"v":4},{"x":233,"y":447,"v":1},{"x":276,"y":447,"v":1},{"x":319,"y":447,"v":5},{"x":362,"y":447,"v":11},{"x":405,"y":447,"v":13},{"x":448,"y":447,"v":11},{"x":491,"y":447,"v":5},{"x":534,"y":447,"v":1},{"x":577,"y":447,"v":1},{"x":620,"y":447,"v":5},{"x":663,"y":447,"v":11},{"x":706,"y":447,"v":13},{"x":749,"y":447,"v":12},
{"x":61,"y":490,"v":10},{"x":104,"y":490,"v":10},{"x":147,"y":490,"v":9},{"x":190,"y":490,"v":6},{"x":233,"y":490,"v":4},{"x":276,"y":490,"v":4},{"x":319,"y":490,"v":6},{"x":362,"y":490,"v":9},{"x":405,"y":490,"v":10},{"x":448,"y":490,"v":9},{"x":491,"y":490,"v":6},{"x":534,"y":490,"v":4},{"x":577,"y":490,"v":4},{"x":620,"y":490,"v":6},{"x":663,"y":490,"v":9},{"x":706,"y":490,"v":10},{"x":749,"y":490,"v":10},
{"x":61,"y":533,"v":5},{"x":104,"y":533,"v":5},{"x":147,"y":533,"v":7},{"x":190,"y":533,"v":9},{"x":233,"y":533,"v":10},{"x":276,"y":533,"v":10},{"x":319,"y":533,"v":9},{"x":362,"y":533,"v":6},{"x":405,"y":533,"v":5},{"x":448,"y":533,"v":6},{"x":491,"y":533,"v":9},{"x":534,"y":533,"v":10},{"x":577,"y":533,"v":10},{"x":620,"y":533,"v":9},{"x":663,"y":533,"v":6},{"x":706,"y":533,"v":5},{"x":749,"y":533,"v":5},
{"x":61,"y":576,"v":3},{"x":104,"y":576,"v":1},{"x":147,"y":576,"v":5},{"x":190,"y":576,"v":11},{"x":233,"y":576,"v":14},{"x":276,"y":576,"v":13},{"x":319,"y":576,"v":10},{"x":362,"y":576,"v":4},{"x":405,"y":576,"v":1},{"x":448,"y":576,"v":4},{"x":491,"y":576,"v":10},{"x":534,"y":576,"v":13},{"x":577,"y":576,"v":14},{"x":620,"y":576,"v":11},{"x":663,"y":576,"v":4},{"x":706,"y":576,"v":1},{"x":749,"y":576,"v":2},
{"x":61,"y":619,"v":3},{"x":104,"y":619,"v":2},{"x":147,"y":619,"v":5},{"x":190,"y":619,"v":10},{"x":233,"y":619,"v":13},{"x":276,"y":619,"v":13},{"x":319,"y":619,"v":10},{"x":362,"y":619,"v":5},{"x":405,"y":619,"v":2},{"x":448,"y":619,"v":5},{"x":491,"y":619,"v":10},{"x":534,"y":619,"v":12},{"x":577,"y":619,"v":13},{"x":620,"y":619,"v":9},{"x":663,"y":619,"v":4},{"x":706,"y":619,"v":2},{"x":749,"y":619,"v":3},
{"x":61,"y":662,"v":6},{"x":104,"y":662,"v":5},{"x":147,"y":662,"v":7},{"x":190,"y":662,"v":9},{"x":233,"y":662,"v":9},{"x":276,"y":662,"v":9},{"x":319,"y":662,"v":9},{"x":362,"y":662,"v":7},{"x":405,"y":662,"v":5},{"x":448,"y":662,"v":7},{"x":491,"y":662,"v":9},{"x":534,"y":662,"v":9},{"x":577,"y":662,"v":9},{"x":620,"y":662,"v":8},{"x":663,"y":662,"v":6},{"x":706,"y":662,"v":5},{"x":749,"y":662,"v":6},
{"x":61,"y":705,"v":10},{"x":104,"y":705,"v":11},{"x":147,"y":705,"v":9},{"x":190,"y":705,"v":5},{"x":233,"y":705,"v":3},{"x":276,"y":705,"v":3},{"x":319,"y":705,"v":5},{"x":362,"y":705,"v":10},{"x":405,"y":705,"v":11},{"x":448,"y":705,"v":10},{"x":491,"y":705,"v":5},{"x":534,"y":705,"v":3},{"x":577,"y":705,"v":3},{"x":620,"y":705,"v":5},{"x":663,"y":705,"v":9},{"x":706,"y":705,"v":11},{"x":749,"y":705,"v":11},
{"x":61,"y":748,"v":13},{"x":104,"y":748,"v":13},{"x":147,"y":748,"v":10},{"x":190,"y":748,"v":3},{"x":233,"y":748,"v":1},{"x":276,"y":748,"v":1},{"x":319,"y":748,"v":4},{"x":362,"y":748,"v":11},{"x":405,"y":748,"v":13},{"x":448,"y":748,"v":11},{"x":491,"y":748,"v":4},{"x":534,"y":748,"v":1},{"x":577,"y":748,"v":1},{"x":620,"y":748,"v":4},{"x":663,"y":748,"v":10},{"x":706,"y":748,"v":13},{"x":749,"y":748,"v":12},
{"x":61,"y":791,"v":11},{"x":104,"y":791,"v":12},{"x":147,"y":791,"v":10},{"x":190,"y":791,"v":5},{"x":233,"y":791,"v":2},{"x":276,"y":791,"v":3},{"x":319,"y":791,"v":6},{"x":362,"y":791,"v":11},{"x":405,"y":791,"v":12},{"x":448,"y":791,"v":10},{"x":491,"y":791,"v":5},{"x":534,"y":791,"v":2},{"x":577,"y":791,"v":2},{"x":620,"y":791,"v":5},{"x":663,"y":791,"v":10},{"x":706,"y":791,"v":12},{"x":749,"y":791,"v":11},
{"x":61,"y":834,"v":8},{"x":104,"y":834,"v":8},{"x":147,"y":834,"v":7},{"x":190,"y":834,"v":6},{"x":233,"y":834,"v":6},{"x":276,"y":834,"v":6},{"x":319,"y":834,"v":7},{"x":362,"y":834,"v":8},{"x":405,"y":834,"v":8},{"x":448,"y":834,"v":7},{"x":491,"y":834,"v":6},{"x":534,"y":834,"v":6},{"x":577,"y":834,"v":6},{"x":620,"y":834,"v":6},{"x":663,"y":834,"v":7},{"x":706,"y":834,"v":8},{"x":749,"y":834,"v":8},
{"x":61,"y":877,"v":3},{"x":104,"y":877,"v":3},{"x":147,"y":877,"v":5},{"x":190,"y":877,"v":10},{"x":233,"y":877,"v":12},{"x":276,"y":877,"v":11},{"x":319,"y":877,"v":8},{"x":362,"y":877,"v":5},{"x":405,"y":877,"v":3},{"x":448,"y":877,"v":5},{"x":491,"y":877,"v":9},{"x":534,"y":877,"v":12},{"x":577,"y":877,"v":12},{"x":620,"y":877,"v":9},{"x":663,"y":877,"v":5},{"x":706,"y":877,"v":3},{"x":749,"y":877,"v":3},
{"x":61,"y":920,"v":1},{"x":104,"y":920,"v":2},{"x":147,"y":920,"v":5},{"x":190,"y":920,"v":11},{"x":233,"y":920,"v":13},{"x":276,"y":920,"v":13},{"x":319,"y":920,"v":9},{"x":362,"y":920,"v":4},{"x":405,"y":920,"v":2},{"x":448,"y":920,"v":5},{"x":491,"y":920,"v":10},{"x":534,"y":920,"v":13},{"x":577,"y":920,"v":13},{"x":620,"y":920,"v":10},{"x":663,"y":920,"v":4},{"x":706,"y":920,"v":2},{"x":749,"y":920,"v":1},
{"x":61,"y":963,"v":4},{"x":104,"y":963,"v":3},{"x":147,"y":963,"v":5},{"x":190,"y":963,"v":10},{"x":233,"y":963,"v":12},{"x":276,"y":963,"v":11},{"x":319,"y":963,"v":8},{"x":362,"y":963,"v":5},{"x":405,"y":963,"v":3},{"x":448,"y":963,"v":5},{"x":491,"y":963,"v":8},{"x":534,"y":963,"v":11},{"x":577,"y":963,"v":12},{"x":620,"y":963,"v":9},{"x":663,"y":963,"v":5},{"x":706,"y":963,"v":3},{"x":749,"y":963,"v":4}],
"d4":[
{"x":61,"y":60,"v":10},{"x":104,"y":60,"v":12},{"x":147,"y":60,"v":13},{"x":190,"y":60,"v":12},{"x":233,"y":60,"v":10},{"x":276,"y":60,"v":7},{"x":319,"y":60,"v":4},{"x":362,"y":60,"v":2},{"x":405,"y":60,"v":2},{"x":448,"y":60,"v":2},{"x":491,"y":60,"v":4},{"x":534,"y":60,"v":7},{"x":577,"y":60,"v":10},{"x":620,"y":60,"v":12},{"x":663,"y":60,"v":13},{"x":706,"y":60,"v":12},{"x":749,"y":60,"v":10},
{"x":61,"y":103,"v":8},{"x":104,"y":103,"v":9},{"x":147,"y":103,"v":10},{"x":190,"y":103,"v":9},{"x":233,"y":103,"v":8},{"x":276,"y":103,"v":7},{"x":319,"y":103,"v":6},{"x":362,"y":103,"v":5},{"x":405,"y":103,"v":5},{"x":448,"y":103,"v":5},{"x":491,"y":103,"v":6},{"x":534,"y":103,"v":7},{"x":577,"y":103,"v":8},{"x":620,"y":103,"v":9},{"x":663,"y":103,"v":10},{"x":706,"y":103,"v":9},{"x":749,"y":103,"v":8},
{"x":61,"y":146,"v":4},{"x":104,"y":146,"v":3},{"x":147,"y":146,"v":2},{"x":190,"y":146,"v":3},{"x":233,"y":146,"v":4},{"x":276,"y":146,"v":6},{"x":319,"y":146,"v":10},{"x":362,"y":146,"v":11},{"x":405,"y":146,"v":12},{"x":448,"y":146,"v":11},{"x":491,"y":146,"v":9},{"x":534,"y":146,"v":6},{"x":577,"y":146,"v":4},{"x":620,"y":146,"v":3},{"x":663,"y":146,"v":2},{"x":706,"y":146,"v":3},{"x":749,"y":146,"v":3},
{"x":61,"y":189,"v":5},{"x":104,"y":189,"v":3},{"x":147,"y":189,"v":3},{"x":190,"y":189,"v":3},{"x":233,"y":189,"v":5},{"x":276,"y":189,"v":7},{"x":319,"y":189,"v":10},{"x":362,"y":189,"v":11},{"x":405,"y":189,"v":12},{"x":448,"y":189,"v":10},{"x":491,"y":189,"v":9},{"x":534,"y":189,"v":6},{"x":577,"y":189,"v":5},{"x":620,"y":189,"v":4},{"x":663,"y":189,"v":4},{"x":706,"y":189,"v":4},{"x":749,"y":189,"v":5},
{"x":61,"y":232,"v":9},{"x":104,"y":232,"v":10},{"x":147,"y":232,"v":10},{"x":190,"y":232,"v":10},{"x":233,"y":232,"v":9},{"x":276,"y":232,"v":7},{"x":319,"y":232,"v":5},{"x":362,"y":232,"v":4},{"x":405,"y":232,"v":3},{"x":448,"y":232,"v":4},{"x":491,"y":232,"v":5},{"x":534,"y":232,"v":7},{"x":577,"y":232,"v":9},{"x":620,"y":232,"v":10},{"x":663,"y":232,"v":10},{"x":706,"y":232,"v":10},{"x":749,"y":232,"v":9},
{"x":61,"y":275,"v":11},{"x":104,"y":275,"v":12},{"x":147,"y":275,"v":13},{"x":190,"y":275,"v":12},{"x":233,"y":275,"v":10},{"x":276,"y":275,"v":8},{"x":319,"y":275,"v":6},{"x":362,"y":275,"v":3},{"x":405,"y":275,"v":2},{"x":448,"y":275,"v":3},{"x":491,"y":275,"v":5},{"x":534,"y":275,"v":8},{"x":577,"y":275,"v":10},{"x":620,"y":275,"v":12},{"x":663,"y":275,"v":13},{"x":706,"y":275,"v":12},{"x":749,"y":275,"v":11},
{"x":61,"y":318,"v":7},{"x":104,"y":318,"v":6},{"x":147,"y":318,"v":6},{"x":190,"y":318,"v":6},{"x":233,"y":318,"v":6},{"x":276,"y":318,"v":7},{"x":319,"y":318,"v":8},{"x":362,"y":318,"v":8},{"x":405,"y":318,"v":8},{"x":448,"y":318,"v":8},{"x":491,"y":318,"v":8},{"x":534,"y":318,"v":7},{"x":577,"y":318,"v":7},{"x":620,"y":318,"v":7},{"x":663,"y":318,"v":7},{"x":706,"y":318,"v":6},{"x":749,"y":318,"v":6},
{"x":61,"y":361,"v":4},{"x":104,"y":361,"v":2},{"x":147,"y":361,"v":2},{"x":190,"y":361,"v":2},{"x":233,"y":361,"v":4},{"x":276,"y":361,"v":6},{"x":319,"y":361,"v":11},{"x":362,"y":361,"v":12},{"x":405,"y":361,"v":13},{"x":448,"y":361,"v":12},{"x":491,"y":361,"v":11},{"x":534,"y":361,"v":6},{"x":577,"y":361,"v":4},{"x":620,"y":361,"v":2},{"x":663,"y":361,"v":2},{"x":706,"y":361,"v":2},{"x":749,"y":361,"v":2},
{"x":61,"y":404,"v":6},{"x":104,"y":404,"v":6},{"x":147,"y":404,"v":5},{"x":190,"y":404,"v":5},{"x":233,"y":404,"v":6},{"x":276,"y":404,"v":7},{"x":319,"y":404,"v":8},{"x":362,"y":404,"v":9},{"x":405,"y":404,"v":9},{"x":448,"y":404,"v":8},{"x":491,"y":404,"v":8},{"x":534,"y":404,"v":6},{"x":577,"y":404,"v":6},{"x":620,"y":404,"v":6},{"x":663,"y":404,"v":5},{"x":706,"y":404,"v":5},{"x":749,"y":404,"v":6},
{"x":61,"y":447,"v":11},{"x":104,"y":447,"v":12},{"x":147,"y":447,"v":12},{"x":190,"y":447,"v":11},{"x":233,"y":447,"v":10},{"x":276,"y":447,"v":7},{"x":319,"y":447,"v":4},{"x":362,"y":447,"v":2},{"x":405,"y":447,"v":2},{"x":448,"y":447,"v":2},{"x":491,"y":447,"v":4},{"x":534,"y":447,"v":7},{"x":577,"y":447,"v":10},{"x":620,"y":447,"v":12},{"x":663,"y":447,"v":13},{"x":706,"y":447,"v":12},{"x":749,"y":447,"v":11},
{"x":61,"y":490,"v":10},{"x":104,"y":490,"v":10},{"x":147,"y":490,"v":9},{"x":190,"y":490,"v":9},{"x":233,"y":490,"v":8},{"x":276,"y":490,"v":7},{"x":319,"y":490,"v":5},{"x":362,"y":490,"v":5},{"x":405,"y":490,"v":4},{"x":448,"y":490,"v":5},{"x":491,"y":490,"v":6},{"x":534,"y":490,"v":7},{"x":577,"y":490,"v":8},{"x":620,"y":490,"v":9},{"x":663,"y":490,"v":9},{"x":706,"y":490,"v":10},{"x":749,"y":490,"v":9},
{"x":61,"y":533,"v":4},{"x":104,"y":533,"v":4},{"x":147,"y":533,"v":4},{"x":190,"y":533,"v":4},{"x":233,"y":533,"v":5},{"x":276,"y":533,"v":7},{"x":319,"y":533,"v":10},{"x":362,"y":533,"v":11},{"x":405,"y":533,"v":11},{"x":448,"y":533,"v":11},{"x":491,"y":533,"v":8},{"x":534,"y":533,"v":7},{"x":577,"y":533,"v":4},{"x":620,"y":533,"v":3},{"x":663,"y":533,"v":3},{"x":706,"y":533,"v":3},{"x":749,"y":533,"v":4},
{"x":61,"y":576,"v":3},{"x":104,"y":576,"v":1},{"x":147,"y":576,"v":1},{"x":190,"y":576,"v":1},{"x":233,"y":576,"v":4},{"x":276,"y":576,"v":7},{"x":319,"y":576,"v":11},{"x":362,"y":576,"v":12},{"x":405,"y":576,"v":13},{"x":448,"y":576,"v":12},{"x":491,"y":576,"v":10},{"x":534,"y":576,"v":6},{"x":577,"y":576,"v":3},{"x":620,"y":576,"v":1},{"x":663,"y":576,"v":1},{"x":706,"y":576,"v":1},{"x":749,"y":576,"v":2},
{"x":61,"y":619,"v":9},{"x":104,"y":619,"v":9},{"x":147,"y":619,"v":8},{"x":190,"y":619,"v":9},{"x":233,"y":619,"v":8},{"x":276,"y":619,"v":7},{"x":319,"y":619,"v":6},{"x":362,"y":619,"v":4},{"x":405,"y":619,"v":3},{"x":448,"y":619,"v":4},{"x":491,"y":619,"v":5},{"x":534,"y":619,"v":7},{"x":577,"y":619,"v":8},{"x":620,"y":619,"v":9},{"x":663,"y":619,"v":9},{"x":706,"y":619,"v":9},{"x":749,"y":619,"v":8},
{"x":61,"y":662,"v":12},{"x":104,"y":662,"v":12},{"x":147,"y":662,"v":12},{"x":190,"y":662,"v":12},{"x":233,"y":662,"v":10},{"x":276,"y":662,"v":7},{"x":319,"y":662,"v":4},{"x":362,"y":662,"v":2},{"x":405,"y":662,"v":1},{"x":448,"y":662,"v":2},{"x":491,"y":662,"v":3},{"x":534,"y":662,"v":6},{"x":577,"y":662,"v":10},{"x":620,"y":662,"v":12},{"x":663,"y":662,"v":13},{"x":706,"y":662,"v":12},{"x":749,"y":662,"v":10},
{"x":61,"y":705,"v":7},{"x":104,"y":705,"v":8},{"x":147,"y":705,"v":7},{"x":190,"y":705,"v":7},{"x":233,"y":705,"v":6},{"x":276,"y":705,"v":6},{"x":319,"y":705,"v":6},{"x":362,"y":705,"v":6},{"x":405,"y":705,"v":6},{"x":448,"y":705,"v":6},{"x":491,"y":705,"v":6},{"x":534,"y":705,"v":6},{"x":577,"y":705,"v":7},{"x":620,"y":705,"v":7},{"x":663,"y":705,"v":7},{"x":706,"y":705,"v":6},{"x":749,"y":705,"v":6},
{"x":61,"y":748,"v":3},{"x":104,"y":748,"v":1},{"x":147,"y":748,"v":1},{"x":190,"y":748,"v":1},{"x":233,"y":748,"v":3},{"x":276,"y":748,"v":6},{"x":319,"y":748,"v":10},{"x":362,"y":748,"v":12},{"x":405,"y":748,"v":14},{"x":448,"y":748,"v":12},{"x":491,"y":748,"v":10},{"x":534,"y":748,"v":4},{"x":577,"y":748,"v":3},{"x":620,"y":748,"v":1},{"x":663,"y":748,"v":1},{"x":706,"y":748,"v":1},{"x":749,"y":748,"v":2},
{"x":61,"y":791,"v":5},{"x":104,"y":791,"v":4},{"x":147,"y":791,"v":4},{"x":190,"y":791,"v":4},{"x":233,"y":791,"v":5},{"x":276,"y":791,"v":6},{"x":319,"y":791,"v":8},{"x":362,"y":791,"v":10},{"x":405,"y":791,"v":11},{"x":448,"y":791,"v":10},{"x":491,"y":791,"v":9},{"x":534,"y":791,"v":6},{"x":577,"y":791,"v":5},{"x":620,"y":791,"v":4},{"x":663,"y":791,"v":3},{"x":706,"y":791,"v":3},{"x":749,"y":791,"v":4},
{"x":61,"y":834,"v":10},{"x":104,"y":834,"v":10},{"x":147,"y":834,"v":11},{"x":190,"y":834,"v":10},{"x":233,"y":834,"v":9},{"x":276,"y":834,"v":7},{"x":319,"y":834,"v":5},{"x":362,"y":834,"v":3},{"x":405,"y":834,"v":2},{"x":448,"y":834,"v":2},{"x":491,"y":834,"v":3},{"x":534,"y":834,"v":7},{"x":577,"y":834,"v":10},{"x":620,"y":834,"v":11},{"x":663,"y":834,"v":12},{"x":706,"y":834,"v":10},{"x":749,"y":834,"v":9},
{"x":61,"y":877,"v":10},{"x":104,"y":877,"v":10},{"x":147,"y":877,"v":11},{"x":190,"y":877,"v":10},{"x":233,"y":877,"v":10},{"x":276,"y":877,"v":7},{"x":319,"y":877,"v":5},{"x":362,"y":877,"v":3},{"x":405,"y":877,"v":2},{"x":448,"y":877,"v":3},{"x":491,"y":877,"v":4},{"x":534,"y":877,"v":7},{"x":577,"y":877,"v":10},{"x":620,"y":877,"v":11},{"x":663,"y":877,"v":11},{"x":706,"y":877,"v":10},{"x":749,"y":877,"v":10},
{"x":61,"y":920,"v":5},{"x":104,"y":920,"v":5},{"x":147,"y":920,"v":4},{"x":190,"y":920,"v":5},{"x":233,"y":920,"v":6},{"x":276,"y":920,"v":7},{"x":319,"y":920,"v":8},{"x":362,"y":920,"v":9},{"x":405,"y":920,"v":9},{"x":448,"y":920,"v":9},{"x":491,"y":920,"v":8},{"x":534,"y":920,"v":6},{"x":577,"y":920,"v":5},{"x":620,"y":920,"v":4},{"x":663,"y":920,"v":4},{"x":706,"y":920,"v":5},{"x":749,"y":920,"v":5},
{"x":61,"y":963,"v":4},{"x":104,"y":963,"v":2},{"x":147,"y":963,"v":2},{"x":190,"y":963,"v":2},{"x":233,"y":963,"v":4},{"x":276,"y":963,"v":6},{"x":319,"y":963,"v":11},{"x":362,"y":963,"v":12},{"x":405,"y":963,"v":13},{"x":448,"y":963,"v":12},{"x":491,"y":963,"v":10},{"x":534,"y":963,"v":6},{"x":577,"y":963,"v":4},{"x":620,"y":963,"v":2},{"x":663,"y":963,"v":2},{"x":706,"y":963,"v":2},{"x":749,"y":963,"v":2}]
},
"concat":[
{"width":190,"height":340,
"encoding":{"x":{"field":"x","type":"quantitative","axis":null,"scale":{"domain":[170,740],"nice":false,"zero":false}},"y":{"field":"y","type":"quantitative","axis":null,"scale":{"domain":[1020,0],"nice":false,"zero":false}}},
"layer":[
{"data":{"name":"d1"},"mark":{"type":"circle","color":"black","opacity":1},"encoding":{"size":{"field":"v","type":"quantitative","legend":null,"scale":{"type":"pow","exponent":2,"domain":[0,14],"range":[0,196]}}}},
{"data":{"name":"c1"},"mark":{"type":"line","color":"#ff0000","strokeWidth":1,"order":null,"interpolate":"catmull-rom"},"encoding":{"detail":{"field":"g"}}},
{"data":{"name":"l1"},"transform":[{"filter":"datum.o=='flat'"}],"mark":{"type":"text","color":"#ff2a2a","fontSize":8,"align":"center","baseline":"middle"},"encoding":{"text":{"field":"t"}}},
{"data":{"name":"l1"},"transform":[{"filter":"datum.o=='r4'"}],"mark":{"type":"text","color":"#ff2a2a","fontSize":8,"align":"center","baseline":"middle","angle":318},"encoding":{"text":{"field":"t"}}},
{"data":{"name":"l1"},"transform":[{"filter":"datum.o=='f4'"}],"mark":{"type":"text","color":"#ff2a2a","fontSize":8,"align":"center","baseline":"middle","angle":42},"encoding":{"text":{"field":"t"}}},
{"data":{"name":"coast"},"mark":{"type":"line","color":"#1a1aff","strokeWidth":1,"order":null},"encoding":{"detail":{"field":"g"}}}
]},
{"width":196,"height":340,
"encoding":{"x":{"field":"x","type":"quantitative","axis":null,"scale":{"domain":[148.3,736.3],"nice":false,"zero":false}},"y":{"field":"y","type":"quantitative","axis":null,"scale":{"domain":[1020,0],"nice":false,"zero":false}}},
"layer":[
{"data":{"name":"d2"},"mark":{"type":"circle","color":"black","opacity":1},"encoding":{"size":{"field":"v","type":"quantitative","legend":null,"scale":{"type":"pow","exponent":2,"domain":[0,14],"range":[0,196]}}}},
{"data":{"name":"c2"},"mark":{"type":"line","color":"#ff0000","strokeWidth":1,"order":null,"interpolate":"catmull-rom"},"encoding":{"detail":{"field":"g"}}},
{"data":{"name":"l2"},"transform":[{"filter":"datum.o=='flat'"}],"mark":{"type":"text","color":"#ff2a2a","fontSize":8,"align":"center","baseline":"middle"},"encoding":{"text":{"field":"t"}}},
{"data":{"name":"l2"},"transform":[{"filter":"datum.o=='r1'"}],"mark":{"type":"text","color":"#ff2a2a","fontSize":8,"align":"center","baseline":"middle","angle":345},"encoding":{"text":{"field":"t"}}},
{"data":{"name":"l2"},"transform":[{"filter":"datum.o=='r2'"}],"mark":{"type":"text","color":"#ff2a2a","fontSize":8,"align":"center","baseline":"middle","angle":330},"encoding":{"text":{"field":"t"}}},
{"data":{"name":"l2"},"transform":[{"filter":"datum.o=='r3'"}],"mark":{"type":"text","color":"#ff2a2a","fontSize":8,"align":"center","baseline":"middle","angle":300},"encoding":{"text":{"field":"t"}}},
{"data":{"name":"l2"},"transform":[{"filter":"datum.o=='f1'"}],"mark":{"type":"text","color":"#ff2a2a","fontSize":8,"align":"center","baseline":"middle","angle":15},"encoding":{"text":{"field":"t"}}},
{"data":{"name":"l2"},"transform":[{"filter":"datum.o=='f2'"}],"mark":{"type":"text","color":"#ff2a2a","fontSize":8,"align":"center","baseline":"middle","angle":30},"encoding":{"text":{"field":"t"}}},
{"data":{"name":"coast"},"mark":{"type":"line","color":"#1a1aff","strokeWidth":1,"order":null},"encoding":{"detail":{"field":"g"}}}
]},
{"width":196.6,"height":340,
"encoding":{"x":{"field":"x","type":"quantitative","axis":null,"scale":{"domain":[148.7,738.5],"nice":false,"zero":false}},"y":{"field":"y","type":"quantitative","axis":null,"scale":{"domain":[1020,0],"nice":false,"zero":false}}},
"layer":[
{"data":{"name":"d3"},"mark":{"type":"circle","color":"black","opacity":1},"encoding":{"size":{"field":"v","type":"quantitative","legend":null,"scale":{"type":"pow","exponent":2,"domain":[0,14],"range":[0,196]}}}},
{"data":{"name":"c3"},"mark":{"type":"line","color":"#ff0000","strokeWidth":1,"order":null},"encoding":{"detail":{"field":"g"}}},
{"data":{"name":"l3"},"mark":{"type":"text","color":"#ff2a2a","fontSize":8,"align":"center","baseline":"middle"},"encoding":{"text":{"field":"t"}}},
{"data":{"name":"coast"},"mark":{"type":"line","color":"#1a1aff","strokeWidth":1,"order":null},"encoding":{"detail":{"field":"g"}}}
]},
{"width":196.6,"height":340,
"encoding":{"x":{"field":"x","type":"quantitative","axis":null,"scale":{"domain":[145.7,735.5],"nice":false,"zero":false}},"y":{"field":"y","type":"quantitative","axis":null,"scale":{"domain":[1020,0],"nice":false,"zero":false}}},
"layer":[
{"data":{"name":"d4"},"mark":{"type":"circle","color":"black","opacity":1},"encoding":{"size":{"field":"v","type":"quantitative","legend":null,"scale":{"type":"pow","exponent":2,"domain":[0,14],"range":[0,196]}}}},
{"data":{"name":"c4"},"mark":{"type":"line","color":"#ff0000","strokeWidth":1,"order":null},"encoding":{"detail":{"field":"g"}}},
{"data":{"name":"l4"},"mark":{"type":"text","color":"#ff2a2a","fontSize":8,"align":"center","baseline":"middle"},"encoding":{"text":{"field":"t"}}},
{"data":{"name":"coast"},"mark":{"type":"line","color":"#1a1aff","strokeWidth":1,"order":null},"encoding":{"detail":{"field":"g"}}}
]},
{"width":190,"height":139.7,"view":{"stroke":"black"},"title":{"text":"PCNM 1","fontSize":17.5,"fontWeight":"bold","anchor":"middle","dx":-30,"offset":25,"color":"black"},"data":{"name":"s1"},
"resolve":{"axis":{"x":"independent","y":"independent"}},
"layer":[
{"mark":{"type":"circle","color":"#0080ff","size":30,"opacity":1,"clip":true},"encoding":{"x":{"field":"x","type":"quantitative","title":"distance (m)","scale":{"domain":[50,33200],"nice":false,"zero":false},"axis":{"values":[5000,10000,15000,20000,25000,30000],"format":"d","labelExpr":"datum.value % 10000 == 5000 ? datum.label : ''","grid":false,"domain":false,"tickColor":"black","tickSize":7,"labelFontSize":11.5,"labelColor":"#222","labelPadding":8,"titleFontSize":14.8,"titleFontWeight":"normal","titleColor":"#222","titlePadding":14.5}},"y":{"field":"y","type":"quantitative","title":"semivariance","scale":{"domain":[0.000005,0.00335],"nice":false,"zero":false},"axis":{"values":[0.0005,0.001,0.0015,0.002,0.0025,0.003],"format":".4f","grid":false,"domain":false,"tickColor":"black","tickSize":7,"labelFontSize":11.8,"labelColor":"#222","labelPadding":7,"titleFontSize":14.8,"titleFontWeight":"normal","titleColor":"#222","titlePadding":11.5}}}},
{"mark":{"type":"point","opacity":0},"encoding":{"x":{"field":"x","type":"quantitative","scale":{"domain":[50,33200],"nice":false,"zero":false},"axis":{"orient":"top","values":[5000,10000,15000,20000,25000,30000],"labels":false,"title":null,"grid":false,"domain":false,"tickColor":"black","tickSize":7}},"y":{"field":"y","type":"quantitative","scale":{"domain":[0.000005,0.00335],"nice":false,"zero":false},"axis":{"orient":"right","values":[0.0005,0.001,0.0015,0.002,0.0025,0.003],"labels":false,"title":null,"grid":false,"domain":false,"tickColor":"black","tickSize":7}}}}
]},
{"width":196,"height":139.7,"view":{"stroke":"black"},"title":{"text":"PCNM 21","fontSize":17.5,"fontWeight":"bold","anchor":"middle","dx":-26.5,"offset":25,"color":"black"},"data":{"name":"s2"},
"resolve":{"axis":{"x":"independent","y":"independent"}},
"layer":[
{"mark":{"type":"circle","color":"#0080ff","size":30,"opacity":1,"clip":true},"encoding":{"x":{"field":"x","type":"quantitative","title":"distance (m)","scale":{"domain":[85,33400],"nice":false,"zero":false},"axis":{"values":[5000,10000,15000,20000,25000,30000],"format":"d","labelExpr":"datum.value % 10000 == 5000 ? datum.label : ''","grid":false,"domain":false,"tickColor":"black","tickSize":7,"labelFontSize":11.5,"labelColor":"#222","labelPadding":8,"titleFontSize":14.8,"titleFontWeight":"normal","titleColor":"#222","titlePadding":14.5}},"y":{"field":"y","type":"quantitative","title":"semivariance","scale":{"domain":[0.00002,0.003726],"nice":false,"zero":false},"axis":{"values":[0.001,0.002,0.003],"format":".3f","grid":false,"domain":false,"tickColor":"black","tickSize":7,"labelFontSize":11.8,"labelColor":"#222","labelPadding":7,"titleFontSize":14.8,"titleFontWeight":"normal","titleColor":"#222","titlePadding":11.5}}}},
{"mark":{"type":"point","opacity":0},"encoding":{"x":{"field":"x","type":"quantitative","scale":{"domain":[85,33400],"nice":false,"zero":false},"axis":{"orient":"top","values":[5000,10000,15000,20000,25000,30000],"labels":false,"title":null,"grid":false,"domain":false,"tickColor":"black","tickSize":7}},"y":{"field":"y","type":"quantitative","scale":{"domain":[0.00002,0.003726],"nice":false,"zero":false},"axis":{"orient":"right","values":[0.001,0.002,0.003],"labels":false,"title":null,"grid":false,"domain":false,"tickColor":"black","tickSize":7}}}}
]},
{"width":196.6,"height":139.7,"view":{"stroke":"black"},"title":{"text":"PCNM 41","fontSize":17.5,"fontWeight":"bold","anchor":"middle","dx":-27,"offset":25,"color":"black"},"data":{"name":"s3"},
"resolve":{"axis":{"x":"independent","y":"independent"}},
"layer":[
{"mark":{"type":"circle","color":"#0080ff","size":30,"opacity":1,"clip":true},"encoding":{"x":{"field":"x","type":"quantitative","title":"distance (m)","scale":{"domain":[45,33270],"nice":false,"zero":false},"axis":{"values":[5000,10000,15000,20000,25000,30000],"format":"d","labelExpr":"datum.value % 10000 == 5000 ? datum.label : ''","grid":false,"domain":false,"tickColor":"black","tickSize":7,"labelFontSize":11.5,"labelColor":"#222","labelPadding":8,"titleFontSize":14.8,"titleFontWeight":"normal","titleColor":"#222","titlePadding":14.5}},"y":{"field":"y","type":"quantitative","title":"semivariance","scale":{"domain":[0,0.00408],"nice":false,"zero":false},"axis":{"values":[0.001,0.002,0.003,0.004],"format":".3f","grid":false,"domain":false,"tickColor":"black","tickSize":7,"labelFontSize":11.8,"labelColor":"#222","labelPadding":7,"titleFontSize":14.8,"titleFontWeight":"normal","titleColor":"#222","titlePadding":11.5}}}},
{"mark":{"type":"point","opacity":0},"encoding":{"x":{"field":"x","type":"quantitative","scale":{"domain":[45,33270],"nice":false,"zero":false},"axis":{"orient":"top","values":[5000,10000,15000,20000,25000,30000],"labels":false,"title":null,"grid":false,"domain":false,"tickColor":"black","tickSize":7}},"y":{"field":"y","type":"quantitative","scale":{"domain":[0,0.00408],"nice":false,"zero":false},"axis":{"orient":"right","values":[0.001,0.002,0.003,0.004],"labels":false,"title":null,"grid":false,"domain":false,"tickColor":"black","tickSize":7}}}}
]},
{"width":196.6,"height":139.7,"view":{"stroke":"black"},"title":{"text":"PCNM 61","fontSize":17.5,"fontWeight":"bold","anchor":"middle","dx":-26,"offset":25,"color":"black"},"data":{"name":"s4"},
"resolve":{"axis":{"x":"independent","y":"independent"}},
"layer":[
{"mark":{"type":"circle","color":"#0080ff","size":30,"opacity":1,"clip":true},"encoding":{"x":{"field":"x","type":"quantitative","title":"distance (m)","scale":{"domain":[20,33390],"nice":false,"zero":false},"axis":{"values":[5000,10000,15000,20000,25000,30000],"format":"d","labelExpr":"datum.value % 10000 == 5000 ? datum.label : ''","grid":false,"domain":false,"tickColor":"black","tickSize":7,"labelFontSize":11.5,"labelColor":"#222","labelPadding":8,"titleFontSize":14.8,"titleFontWeight":"normal","titleColor":"#222","titlePadding":14.5}},"y":{"field":"y","type":"quantitative","title":"semivariance","scale":{"domain":[0,0.003623],"nice":false,"zero":false},"axis":{"values":[0.001,0.002,0.003],"format":".3f","grid":false,"domain":false,"tickColor":"black","tickSize":7,"labelFontSize":11.8,"labelColor":"#222","labelPadding":7,"titleFontSize":14.8,"titleFontWeight":"normal","titleColor":"#222","titlePadding":11.5}}}},
{"mark":{"type":"point","opacity":0},"encoding":{"x":{"field":"x","type":"quantitative","scale":{"domain":[20,33390],"nice":false,"zero":false},"axis":{"orient":"top","values":[5000,10000,15000,20000,25000,30000],"labels":false,"title":null,"grid":false,"domain":false,"tickColor":"black","tickSize":7}},"y":{"field":"y","type":"quantitative","scale":{"domain":[0,0.003623],"nice":false,"zero":false},"axis":{"orient":"right","values":[0.001,0.002,0.003],"labels":false,"title":null,"grid":false,"domain":false,"tickColor":"black","tickSize":7}}}}
]}
]}
